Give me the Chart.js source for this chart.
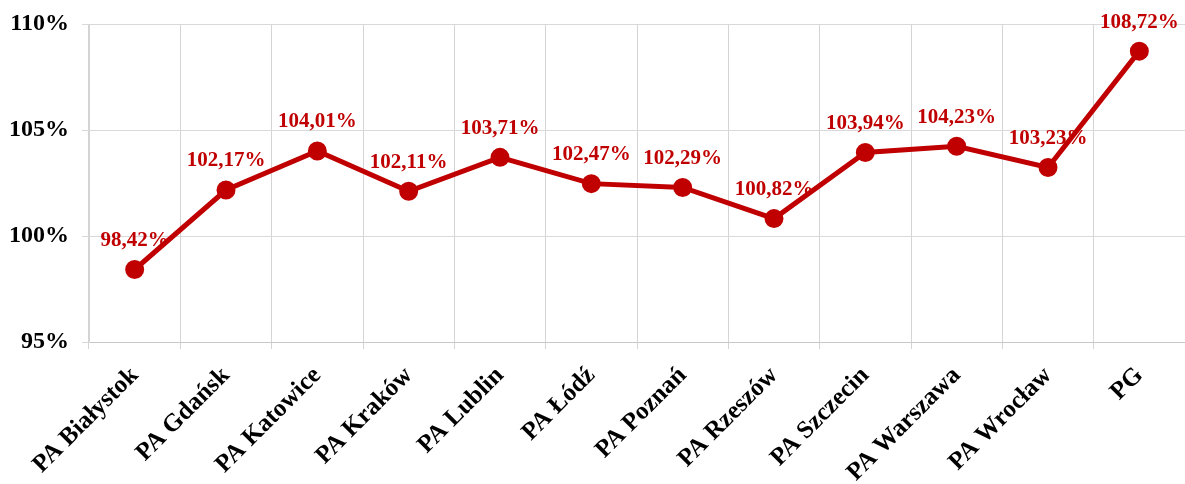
<!DOCTYPE html>
<html>
<head>
<meta charset="utf-8">
<script src="https://cdn.jsdelivr.net/npm/chart.js@4/dist/chart.umd.min.js"></script>
<style>
    html, body { margin: 0; padding: 0; background: #fff; }
    #wrap { width: 1185px; height: 484px; position: relative; }
</style>
</head>
<body>
<div id="wrap"><canvas id="lineChart"></canvas></div>
<script>
const categories = ['PA Białystok', 'PA Gdańsk', 'PA Katowice', 'PA Kraków', 'PA Lublin', 'PA Łódź',
    'PA Poznań', 'PA Rzeszów', 'PA Szczecin', 'PA Warszawa', 'PA Wrocław', 'PG'];
const values = [98.42, 102.17, 104.01, 102.11, 103.71, 102.47, 102.29, 100.82, 103.94, 104.23, 103.23, 108.72];
const yMin = 95;
const yMax = 110;
const yStep = 5;

const serif = "'Liberation Serif', 'Times New Roman', serif";
const red = '#C00000';

// values above each point, Excel-like
const pointLabels = {
    id: 'pointLabels',
    afterDatasetsDraw(chart) {
        const ctx = chart.ctx;
        const meta = chart.getDatasetMeta(0);
        ctx.save();
        ctx.font = 'bold 21px ' + serif;
        ctx.fillStyle = red;
        ctx.textAlign = 'center';
        ctx.textBaseline = 'middle';
        meta.data.forEach(function(pt, i) {
            const txt = values[i].toFixed(2).replace('.', ',') + '%';
            ctx.fillText(txt, pt.x, pt.y - 29);
        });
        ctx.restore();
    }
};

document.addEventListener('DOMContentLoaded', function() {
    const ctx = document.getElementById('lineChart').getContext('2d');
    new Chart(ctx, {
        type: 'line',
        data: {
            labels: categories,
            datasets: [{
                data: values,
                borderColor: red,
                backgroundColor: red,
                borderWidth: 5,
                pointRadius: 7,
                pointBackgroundColor: red,
                pointBorderColor: red,
                tension: 0,
                clip: false
            }]
        },
        options: {
            responsive: true,
            maintainAspectRatio: false,
            animation: false,
            layout: {
                autoPadding: false,
                padding: { top: 24, right: 0, left: 0, bottom: 0 }
            },
            plugins: {
                legend: { display: false },
                tooltip: { enabled: false }
            },
            scales: {
                x: {
                    offset: true,
                    grid: {
                        offset: true,
                        color: '#d4d4d4',
                        tickLength: 7
                    },
                    border: { color: '#c8c8c8' },
                    ticks: {
                        autoSkip: false,
                        minRotation: 45,
                        maxRotation: 45,
                        padding: 12,
                        color: '#000',
                        font: { family: serif, size: 25, weight: 'bold' }
                    },
                    afterFit: function(scale) {
                        scale.height = 142;
                        scale.paddingLeft = 0;
                        scale.paddingRight = 0;
                    }
                },
                y: {
                    min: yMin,
                    max: yMax,
                    grid: {
                        color: '#d9d9d9',
                        tickLength: 7
                    },
                    border: { color: '#d4d4d4' },
                    ticks: {
                        stepSize: yStep,
                        padding: 13,
                        color: '#000',
                        font: { family: serif, size: 24, weight: 'bold' },
                        callback: function(v) { return v + '%'; }
                    },
                    afterFit: function(scale) {
                        scale.width = 89;
                        scale.paddingTop = 0;
                        scale.paddingBottom = 0;
                    }
                }
            }
        },
        plugins: [pointLabels]
    });
});
</script>
</body>
</html>
